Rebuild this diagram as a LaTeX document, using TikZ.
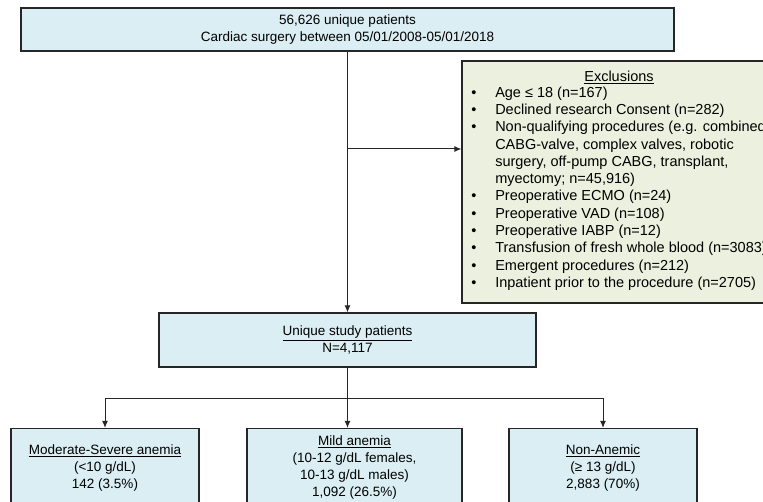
\documentclass[tikz,border=0pt]{standalone}
\usepackage{fontspec}
\setmainfont{Liberation Sans}
\usetikzlibrary{arrows.meta}

\definecolor{boxblue}{HTML}{DAEEF3}
\definecolor{boxgreen}{HTML}{EBF1DE}

\tikzset{
    box/.style={draw=black!85, line width=1.2pt, fill=boxblue, align=center, inner sep=0pt,
        font=\fontsize{13.5}{17}\selectfont},
    exclbox/.style={box, fill=boxgreen, font=\fontsize{14.5}{17.3}\selectfont},
    arr/.style={draw=black!85, line width=1pt, -{Latex[length=7pt,width=6pt]}},
    link/.style={draw=black!85, line width=1pt}
}

\begin{document}
\begin{tikzpicture}[x=1pt,y=-1pt]
        \useasboundingbox (0,0) rectangle (763,502);
        \clip (0,0) rectangle (763,502);
        % Cohort
        \node[box, minimum width=653pt, minimum height=43pt] (cohort) at (347.5,29.5)
            {56,626 unique patients\\Cardiac surgery between 05/01/2008-05/01/2018};
        % Exclusions
        \node[exclbox, minimum width=314pt, minimum height=242pt] (excl) at (619,182)
            {\underline{Exclusions}\\
            \begin{tabular}{@{}p{24pt}@{}l@{}}
            \textbullet & Age ≤ 18 (n=167)\\
            \textbullet & Declined research Consent (n=282)\\
            \textbullet & Non-qualifying procedures (e.g. combined\\
                        & CABG-valve, complex valves, robotic\\
                        & surgery, off-pump CABG, transplant,\\
                        & myectomy; n=45,916)\\
            \textbullet & Preoperative ECMO (n=24)\\
            \textbullet & Preoperative VAD (n=108)\\
            \textbullet & Preoperative IABP (n=12)\\
            \textbullet & Transfusion of fresh whole blood (n=3083)\\
            \textbullet & Emergent procedures (n=212)\\
            \textbullet & Inpatient prior to the procedure (n=2705)
            \end{tabular}};
        % Study population
        \node[box, minimum width=377pt, minimum height=54pt] (study) at (347.5,340)
            {\underline{Unique study patients}\\N=4,117};
        % Anemia groups
        \node[box, minimum width=188pt, minimum height=79pt] (severe) at (105,468)
            {\underline{Moderate-Severe anemia}\\(<10 g/dL)\\142 (3.5\%)};
        \node[box, minimum width=215pt, minimum height=79pt] (mild) at (354.5,468)
            {\underline{Mild anemia}\\(10-12 g/dL females,\\10-13 g/dL males)\\1,092 (26.5\%)};
        \node[box, minimum width=188pt, minimum height=79pt] (nonanemic) at (603,468)
            {\underline{Non-Anemic}\\(≥ 13 g/dL)\\2,883 (70\%)};
        % Connectors
        \coordinate (exclsplit) at (347.5,149);
        \coordinate (groupsplit) at (347.5,399);
        \draw[arr] (cohort) -- (study);
        \draw[arr] (exclsplit) -- (exclsplit -| excl.west);
        \draw[link] (study) -- (groupsplit);
        \draw[arr] (groupsplit) -| (severe);
        \draw[arr] (groupsplit) -- (groupsplit |- mild.north);
        \draw[arr] (groupsplit) -| (nonanemic);
    \end{tikzpicture}
\end{document}
